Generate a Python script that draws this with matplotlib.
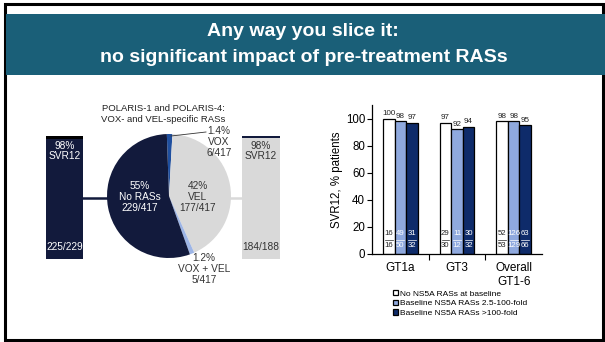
import matplotlib
matplotlib.use("Agg")
import matplotlib.pyplot as plt
import numpy as np
from matplotlib.patches import Rectangle

plt.rcParams['font.family'] = ['Liberation Sans', 'DejaVu Sans']

# pie: POLARIS-1 and POLARIS-4 RAS subgroups
pie_names = ["VOX", "VEL", "VOX + VEL", "No RASs"]
pie_counts = [6, 177, 5, 229]
pie_pct = ["1.4%", "42%", "1.2%", "55%"]
pie_colors = ["#1f4f9f", "#d9d9d9", "#9db5e6", "#121a3c"]

# SVR12 side bars
side_pct = ["98%", "98%"]
side_frac = ["225/229", "184/188"]

# bar chart
groups = ["GT1a", "GT3", "Overall\nGT1-6"]
series = ["No NS5A RASs at baseline", "Baseline NS5A RASs 2.5-100-fold",
          "Baseline NS5A RASs >100-fold"]
svr = [[100, 97, 98], [98, 92, 98], [97, 94, 95]]
num = [[16, 29, 52], [49, 11, 126], [31, 30, 63]]
den = [[16, 30, 53], [50, 12, 129], [32, 32, 66]]
bar_colors = ["white", "#8fa9de", "#0e2b6a"]
frac_colors = ["#222222", "white", "white"]

W, H = 605, 342
fig = plt.figure(figsize=(W / 100, H / 100), dpi=100)

# slide layer in pixel coords (y down)
bg = fig.add_axes([0, 0, 1, 1])
bg.set_xlim(0, W)
bg.set_ylim(H, 0)
bg.axis("off")
bg.add_patch(Rectangle((5, 3.5), 597.5, 336, fill=False, lw=2.2, ec="black"))
bg.add_patch(Rectangle((6, 14), W - 6, 61, color="#1a5f78", lw=0))
bg.text(303, 32, "Any way you slice it:", color="white", fontsize=14,
        fontweight="bold", ha="center", va="center")
bg.text(304, 57, "no significant impact of pre-treatment RASs", color="white",
        fontsize=14, fontweight="bold", ha="center", va="center")

bg.text(163, 114, "POLARIS-1 and POLARIS-4:\nVOX- and VEL-specific RASs",
        fontsize=6.8, color="#222222", ha="center", va="center", linespacing=1.15)

# side bars
bg.add_patch(Rectangle((46, 137), 37, 122, color=pie_colors[3], lw=0))
bg.add_patch(Rectangle((46, 136), 37, 2.5, color="black", lw=0))
bg.add_patch(Rectangle((242, 137), 38, 122, color=pie_colors[1], lw=0))
bg.add_patch(Rectangle((242, 136), 38, 2, color="#121a3c", lw=0))
bg.plot([83, 110], [198, 198], color="#121a3c", lw=1.8)
bg.plot([228, 242], [198, 198], color=pie_colors[1], lw=1.8)
bg.text(64.5, 151, side_pct[0] + "\nSVR12", color="white", fontsize=7.3,
        ha="center", va="center", linespacing=1.1)
bg.text(64.5, 247, side_frac[0], color="white", fontsize=7.3, ha="center", va="center")
bg.text(261, 151, side_pct[1] + "\nSVR12", color="#333333", fontsize=7.3,
        ha="center", va="center", linespacing=1.1)
bg.text(261, 247, side_frac[1], color="#333333", fontsize=7.3, ha="center", va="center")

# pie
pax = fig.add_axes([107 / W, (H - 258) / H, 124 / W, 124 / H])
pax.pie(pie_counts, colors=pie_colors, startangle=92, counterclock=False,
        wedgeprops=dict(linewidth=0))
pax.set_xlim(-1, 1)
pax.set_ylim(-1, 1)
pax.axis("off")

# pie labels drawn with the pie axes (on top), placed in slide pixel coords
total = sum(pie_counts)
lab_pos = [(219, 142), (198, 197), (204, 269), (140, 197)]
lab_col = ["#333333", "#333333", "#333333", "white"]
for k in range(len(pie_names)):
    pax.text(lab_pos[k][0], lab_pos[k][1],
             f"{pie_pct[k]}\n{pie_names[k]}\n{pie_counts[k]}/{total}",
             color=lab_col[k], fontsize=7.3, ha="center", va="center",
             linespacing=1.1, transform=bg.transData, clip_on=False)
pax.plot([171, 206], [136, 132], color="#333333", lw=0.6,
         transform=bg.transData, clip_on=False)

# bar chart
ax = fig.add_axes([372 / W, (H - 254) / H, 170 / W, 149 / H])
x = np.arange(len(groups))
bw = 0.205
for i in range(3):
    xs = x + (i - 1) * bw
    ax.bar(xs, svr[i], width=bw, color=bar_colors[i], edgecolor="black",
           linewidth=0.9, label=series[i])
    for j in range(len(groups)):
        ax.text(xs[j], svr[i][j] + 1.2, str(svr[i][j]), fontsize=5.8,
                ha="center", va="bottom", color="#222222")
        ax.text(xs[j], 14.8, str(num[i][j]), fontsize=5.6, ha="center",
                va="center", color=frac_colors[i])
        ax.text(xs[j], 6.0, str(den[i][j]), fontsize=5.6, ha="center",
                va="center", color=frac_colors[i])
        ax.plot([xs[j] - bw * 0.33, xs[j] + bw * 0.33], [10.4, 10.4],
                color=frac_colors[i], lw=0.5)

ax.set_xlim(-0.5, 2.5)
ax.set_ylim(0, 110)
ax.set_yticks([0, 20, 40, 60, 80, 100])
ax.set_xticks([0.5, 1.5])
ax.set_xticklabels([])
ax.tick_params(axis="x", length=4, width=0.8, direction="out")
ax.tick_params(axis="y", length=3.5, width=0.8, labelsize=8.3, pad=1.5)
for k, g in enumerate(groups):
    ax.text(k, -6, g, fontsize=8.5, ha="center", va="top", linespacing=1.25)
ax.set_ylabel("SVR12, % patients", fontsize=8.3, labelpad=2)
for s in ["top", "right"]:
    ax.spines[s].set_visible(False)
ax.spines["left"].set_linewidth(0.9)
ax.spines["bottom"].set_linewidth(0.9)

fig.legend(loc="upper left", bbox_to_anchor=(393 / W, 1 - 290 / H), frameon=False,
           fontsize=6, handlelength=0.6, handleheight=0.6, handletextpad=0.2,
           labelspacing=0.25, borderpad=0, borderaxespad=0)

fig.savefig("out.png", dpi=100)
